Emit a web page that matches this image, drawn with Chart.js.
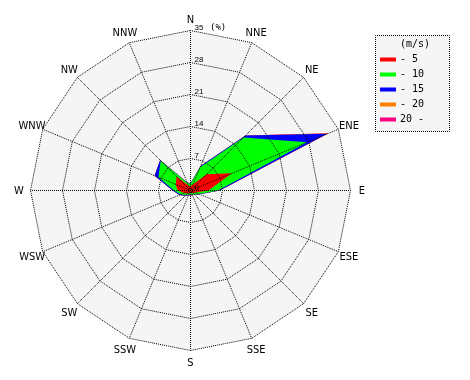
<!DOCTYPE html>
<html>
<head>
<meta charset="utf-8">
<script src="https://cdn.jsdelivr.net/npm/chart.js@4/dist/chart.umd.min.js"></script>
<style>
html,body{margin:0;padding:0;background:#ffffff;}
#wrap{position:relative;width:470px;height:380px;}
</style>
</head>
<body>
<div id="wrap"><canvas id="c" width="470" height="380"></canvas></div>
<script>
// ---- data ----
const directions = ['N','NNE','NE','ENE','E','ESE','SE','SSE','S','SSW','SW','WSW','W','WNW','NW','NNW'];
const speedClasses = ['- 5','- 10','- 15','- 20','20 -'];
const legendTitle = '(m/s)';
const unitLabel = '(%)';
const radialTicks = [0,7,14,21,28,35];
// frequency (%) of each speed class by direction
const freqTo5   = [1.0,1.5,5.0,9.8,3.9,1.2,0.8,0.6,0.6,0.7,0.9,1.5,2.8,3.5,4.3,1.2];
const freqTo10  = [0.5,4.0,11.4,17.8,2.1,0.8,0.4,0.4,0.4,0.3,0.5,0.8,0.8,4.1,4.9,0.6];
const freqTo15  = [0.1,0.3,0.6,4.8,0.4,0.1,0.1,0.1,0.1,0.1,0.2,0.3,0.3,0.9,0.2,0.1];
const freqTo20  = [0,0,0,0.3,0,0,0,0,0,0,0,0,0,0,0,0];
const freqOver20= [0,0,0,0,0,0,0,0,0,0,0,0,0,0,0,0];

// ---- styles ----
const classColors = ['#ff0000','#00ff00','#0000ff','#ff8000','#ff0080'];
const plotBg = '#f5f5f5';

// cumulative (stacked) values
const perClass = [freqTo5, freqTo10, freqTo15, freqTo20, freqOver20];
const cumulative = [];
perClass.forEach((arr, k) => {
  cumulative.push(arr.map((v, i) => +(v + (k > 0 ? cumulative[k-1][i] : 0)).toFixed(2)));
});

const decor = {
  id: 'decor',
  beforeDraw(chart) {
    chart.ctx.save();
    chart.ctx.translate(0.5, 0.5);
  },
  beforeDatasetsDraw(chart) {
    const s = chart.scales.r, ctx = chart.ctx;
    ctx.save();
    ctx.fillStyle = plotBg;
    ctx.beginPath();
    for (let i = 0; i < directions.length; i++) {
      const p = s.getPointPosition(i, s.drawingArea);
      if (i === 0) ctx.moveTo(p.x, p.y); else ctx.lineTo(p.x, p.y);
    }
    ctx.closePath();
    ctx.fill();
    ctx.restore();
  },
  afterDraw(chart) {
    const s = chart.scales.r, ctx = chart.ctx;
    ctx.restore();
    ctx.save();
    ctx.fillStyle = '#000';
    // point labels
    ctx.font = "11px 'Liberation Sans Narrow', 'DejaVu Sans Condensed', sans-serif";
    ctx.textAlign = 'center';
    ctx.textBaseline = 'middle';
    chart.data.labels.forEach((lab, i) => {
      const p = s.getPointPosition(i, s.drawingArea + 11.5);
      ctx.fillText(lab, p.x + 0.5, p.y + 1.5);
    });
    // radial tick labels
    ctx.font = "8px 'Liberation Sans', Arial, sans-serif";
    ctx.textAlign = 'left';
    radialTicks.forEach((v) => {
      const y = s.yCenter - s.getDistanceFromCenterForValue(v) - 2.5;
      ctx.fillText(String(v), s.xCenter + 4.5, y);
      if (v === radialTicks[radialTicks.length - 1]) {
        ctx.font = "9px 'DejaVu Sans Mono', monospace";
        ctx.fillText(unitLabel, s.xCenter + 20, y + 0.5);
        ctx.font = "8px 'Liberation Sans', Arial, sans-serif";
      }
    });
    // legend
    const lx = 375.5, ly = 35.5, lw = 74, lh = 96;
    ctx.fillStyle = plotBg;
    ctx.fillRect(lx, ly, lw, lh);
    ctx.strokeStyle = '#000';
    ctx.lineWidth = 1;
    ctx.setLineDash([1, 1]);
    ctx.lineDashOffset = 0.5;
    ctx.strokeRect(lx, ly, lw, lh);
    ctx.setLineDash([]);
    ctx.font = "10px 'DejaVu Sans Mono', monospace";
    ctx.textBaseline = 'middle';
    ctx.fillStyle = '#000';
    ctx.fillText(legendTitle, 400, 44.5);
    chart.data.datasets.forEach((ds, i) => {
      const y = 59.5 + 15 * i;
      ctx.fillStyle = ds.backgroundColor;
      ctx.fillRect(380, y - 2, 16, 4);
      ctx.fillStyle = '#000';
      ctx.fillText(ds.label, 400, y);
    });
    ctx.restore();
  }
};

new Chart(document.getElementById('c'), {
  type: 'radar',
  data: {
    labels: directions,
    datasets: speedClasses.map((lab, k) => ({
      label: lab,
      data: cumulative[k],
      backgroundColor: classColors[k],
      borderColor: 'rgba(0,0,0,0)',
      borderWidth: 0,
      pointRadius: 0,
      pointHoverRadius: 0,
      fill: 'origin',
      tension: 0
    }))
  },
  options: {
    responsive: false,
    animation: false,
    events: [],
    layout: { padding: { left: 30, top: 30, right: 120, bottom: 30 } },
    plugins: { legend: { display: false }, tooltip: { enabled: false } },
    scales: {
      r: {
        min: 0,
        max: 35,
        ticks: { stepSize: 7, display: false },
        pointLabels: { display: false },
        grid: { color: '#000', lineWidth: 1, z: 1, borderDash: [1, 1] },
        border: { dash: [1, 1], dashOffset: 0.5 },
        angleLines: { color: '#000', lineWidth: 1, borderDash: [1, 1], borderDashOffset: 0.5 }
      }
    }
  },
  plugins: [decor]
});
</script>
</body>
</html>
